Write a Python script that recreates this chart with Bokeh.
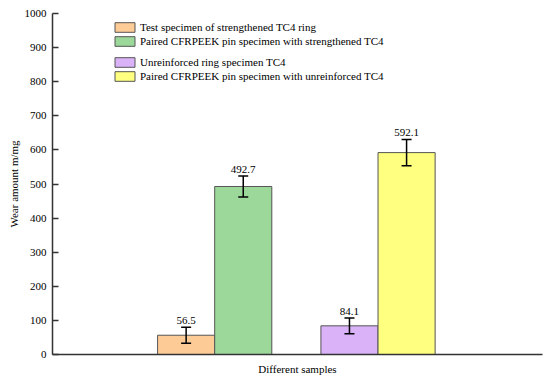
from bokeh.plotting import figure
from bokeh.models import (Range1d, ColumnDataSource, Whisker, TeeHead, Legend,
                          LegendItem, FixedTicker)
from bokeh.core.properties import value
from bokeh.embed import file_html
from bokeh.resources import INLINE

# ---- data ----
groups = ["Strengthened TC4", "Unreinforced TC4"]
ring_labels = ["Test specimen of strengthened TC4 ring", "Unreinforced ring specimen TC4"]
pin_labels = ["Paired CFRPEEK pin specimen with strengthened TC4",
              "Paired CFRPEEK pin specimen with unreinforced TC4"]
ring_values = [56.5, 84.1]
ring_errors = [23.5, 23.0]
pin_values = [492.7, 592.1]
pin_errors = [31.0, 38.5]
y_ticks = [0, 100, 200, 300, 400, 500, 600, 700, 800, 900, 1000]

ring_colors = ["#FDCB96", "#DAB2F8"]
pin_colors = ["#9DD89B", "#FFFF80"]

# ---- layout ----
group_spacing = 2.86
bar_w = 1.0
FONT = "Liberation Serif"

p = figure(width=550, height=380, output_backend="svg", toolbar_location=None,
           x_range=Range1d(-2.84, 5.74), y_range=Range1d(0, 1000),
           min_border_left=52, min_border_right=8, min_border_top=13,
           min_border_bottom=26)
p.outline_line_color = None
p.grid.visible = False
p.background_fill_color = "white"

xs_ring = [i * group_spacing - bar_w / 2 for i in range(len(groups))]
xs_pin = [i * group_spacing + bar_w / 2 for i in range(len(groups))]

renderers = []
for i in range(len(groups)):
    r1 = p.vbar(x=[xs_ring[i]], top=[ring_values[i]], width=bar_w, bottom=0,
                fill_color=ring_colors[i], line_color="#555555", line_width=1)
    r2 = p.vbar(x=[xs_pin[i]], top=[pin_values[i]], width=bar_w, bottom=0,
                fill_color=pin_colors[i], line_color="#555555", line_width=1)
    renderers.append((r1, r2))

xs = xs_ring + xs_pin
vals = ring_values + pin_values
errs = ring_errors + pin_errors
src = ColumnDataSource(dict(
    x=xs,
    lower=[v - e for v, e in zip(vals, errs)],
    upper=[v + e for v, e in zip(vals, errs)],
    label=[f"{v:.1f}" for v in vals],
))
wh = Whisker(base="x", lower="lower", upper="upper", source=src,
             line_color="black", line_width=1.5, level="overlay",
             upper_head=TeeHead(size=10, line_color="black", line_width=1.5),
             lower_head=TeeHead(size=10, line_color="black", line_width=1.5))
p.add_layout(wh)
p.text(x="x", y="upper", text="label", source=src, text_align="center",
       text_baseline="bottom", y_offset=-3, text_font=value(FONT),
       text_font_size="11px", text_color="black")

# legends
leg_common = dict(glyph_width=25, glyph_height=12, label_height=12, spacing=2,
                  padding=0, margin=0, label_standoff=3,
                  border_line_color=None, background_fill_alpha=0,
                  label_text_font=FONT, label_text_font_size="11px",
                  label_text_color="black")
leg1 = Legend(items=[LegendItem(label=ring_labels[0], renderers=[renderers[0][0]]),
                     LegendItem(label=pin_labels[0], renderers=[renderers[0][1]])],
              location=(60, 307), **leg_common)
leg2 = Legend(items=[LegendItem(label=ring_labels[1], renderers=[renderers[1][0]]),
                     LegendItem(label=pin_labels[1], renderers=[renderers[1][1]])],
              location=(60, 272), **leg_common)
p.add_layout(leg1, "center")
p.add_layout(leg2, "center")

# axes
p.yaxis.ticker = FixedTicker(ticks=y_ticks)
p.yaxis.major_tick_in = 6
p.yaxis.major_tick_out = 0
p.yaxis.minor_tick_line_color = None
p.yaxis.axis_label = "Wear amount m/mg"
p.yaxis.axis_label_standoff = 2
p.yaxis.major_label_standoff = 6
p.xaxis.ticker = FixedTicker(ticks=[])
p.xaxis.minor_tick_line_color = None
p.xaxis.axis_label = "Different samples"
p.xaxis.axis_label_standoff = 8
for ax in (p.xaxis, p.yaxis):
    ax.axis_line_color = "#333333"
    ax.axis_line_width = 1.5
    ax.major_tick_line_width = 1.5
    ax.major_label_text_font = FONT
    ax.major_label_text_font_size = "11px"
    ax.major_label_text_color = "black"
    ax.axis_label_text_font = FONT
    ax.axis_label_text_font_size = "11px"
    ax.axis_label_text_font_style = "normal"
    ax.axis_label_text_color = "black"
p.yaxis.major_tick_line_color = "#333333"
p.xaxis.major_tick_line_color = None

open("out.html", "w").write(file_html(p, INLINE))
